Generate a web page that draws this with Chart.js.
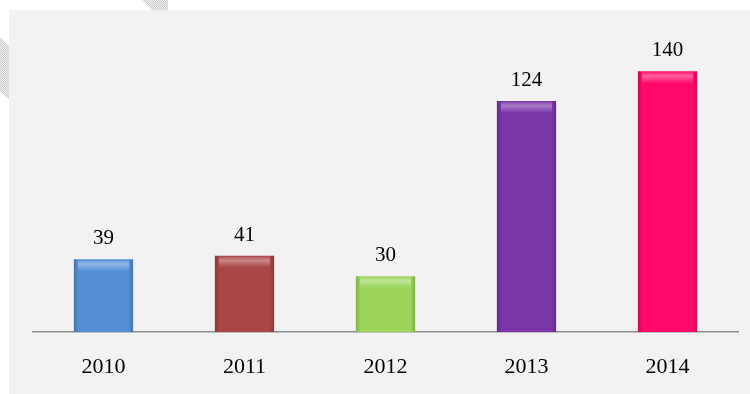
<!DOCTYPE html>
<html>
<head>
<meta charset="utf-8">
<script src="https://cdn.jsdelivr.net/npm/chart.js@4"></script>
<style>
    html, body { margin: 0; padding: 0; background: #ffffff; }
    #wrap { width: 750px; height: 394px; position: relative; }
</style>
</head>
<body>
<div id="wrap"><canvas id="year-chart" width="750" height="394"></canvas></div>
<script>
// chart data
const years  = ["2010", "2011", "2012", "2013", "2014"];
const counts = [39, 41, 30, 124, 140];
const colors = ["#558ed5", "#aa4645", "#9bd65a", "#7a35a8", "#ff0a6a"];

// gray panel + hatched corner bits
const panelPlugin = {
    id: "panel",
    beforeDraw: function (chart) {
        const ctx = chart.ctx;
        ctx.save();
        // small checker pattern
        const pc = document.createElement("canvas");
        pc.width = 2; pc.height = 2;
        const pctx = pc.getContext("2d");
        pctx.fillStyle = "#f4f4f4";
        pctx.fillRect(0, 0, 2, 2);
        pctx.fillStyle = "#c8c8c8";
        pctx.fillRect(0, 0, 1, 1);
        pctx.fillRect(1, 1, 1, 1);
        ctx.fillStyle = ctx.createPattern(pc, "repeat");
        ctx.beginPath();
        ctx.moveTo(142, 0); ctx.lineTo(168, 0); ctx.lineTo(168, 10); ctx.lineTo(152, 10);
        ctx.closePath();
        ctx.fill();
        ctx.beginPath();
        ctx.moveTo(0, 37); ctx.lineTo(9, 46); ctx.lineTo(9, 99); ctx.lineTo(0, 92);
        ctx.closePath();
        ctx.fill();
        ctx.fillStyle = "#f2f2f2";
        ctx.fillRect(9, 10, chart.width - 9, chart.height - 10);
        ctx.restore();
    }
};

// bevel shading and value labels on top of each bar
const barDecorPlugin = {
    id: "barDecor",
    afterDatasetsDraw: function (chart) {
        const ctx = chart.ctx;
        const meta = chart.getDatasetMeta(0);
        ctx.save();
        meta.data.forEach(function (bar, i) {
            const left = bar.x - bar.width / 2;
            const top = bar.y;
            const h = bar.base - bar.y;
            // darker sides
            const side = ctx.createLinearGradient(left, 0, left + bar.width, 0);
            side.addColorStop(0, "rgba(0,0,0,0.18)");
            side.addColorStop(0.08, "rgba(0,0,0,0)");
            side.addColorStop(0.92, "rgba(0,0,0,0)");
            side.addColorStop(1, "rgba(0,0,0,0.18)");
            ctx.fillStyle = side;
            ctx.fillRect(left, top, bar.width, h);
            // light top band
            const band = ctx.createLinearGradient(0, top, 0, top + 12);
            band.addColorStop(0, "rgba(255,255,255,0.05)");
            band.addColorStop(0.4, "rgba(255,255,255,0.35)");
            band.addColorStop(1, "rgba(255,255,255,0)");
            ctx.fillStyle = band;
            ctx.fillRect(left + 4, top + 1, bar.width - 8, 12);

            ctx.fillStyle = "#000000";
            ctx.font = "21px 'Liberation Serif', 'DejaVu Serif', serif";
            ctx.textAlign = "center";
            ctx.textBaseline = "bottom";
            ctx.fillText(String(counts[i]), bar.x, top - 10);
        });
        ctx.restore();
    }
};

const ctx = document.getElementById("year-chart").getContext("2d");
const year_chart = new Chart(ctx, {
    type: "bar",
    data: {
        labels: years,
        datasets: [
            {
                data: counts,
                backgroundColor: colors,
                borderWidth: 0,
                categoryPercentage: 1,
                barPercentage: 0.42
            }
        ]
    },
    options: {
        responsive: false,
        animation: false,
        layout: {
            padding: { left: 33, right: 12, top: 34, bottom: 0 }
        },
        plugins: {
            legend: { display: false },
            tooltip: { enabled: false }
        },
        scales: {
            x: {
                grid: { display: false },
                border: { display: true, color: "#8c8c8c", width: 1.5 },
                ticks: {
                    color: "#000000",
                    padding: 14,
                    font: { family: "'Liberation Serif', serif", size: 22 }
                },
                afterFit: function (scale) {
                    scale.height = 62;
                }
            },
            y: {
                display: false,
                min: 0,
                max: 160
            }
        }
    },
    plugins: [panelPlugin, barDecorPlugin]
});
</script>
</body>
</html>
